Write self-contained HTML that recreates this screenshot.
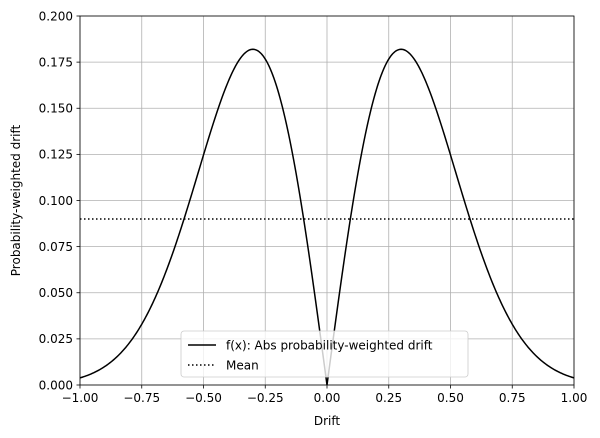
<!DOCTYPE html>
<html><head><meta charset="utf-8"><style>
body{margin:0;background:#fff}
svg{display:block;font-family:"DejaVu Sans","Liberation Sans",sans-serif}
</style></head><body>
<svg id="s" width="600" height="438" xmlns="http://www.w3.org/2000/svg"></svg>
<script>
const s=document.getElementById('s');
const X0=80,X1=574,Y0=385,Y1=16;
const px=v=>X0+(v+1)/2*(X1-X0), py=v=>Y0-v/0.2*(Y0-Y1);
let h='';
for(let i=0;i<=8;i++){const v=-1+i*0.25,x=px(v);
 h+=`<line x1="${x}" y1="${Y1}" x2="${x}" y2="${Y0}" stroke="#b0b0b0" stroke-width="0.8"/>`;
 h+=`<line x1="${x}" y1="${Y0}" x2="${x}" y2="${Y0+3.5}" stroke="#000" stroke-width="0.8"/>`;
 h+=`<text x="${x}" y="${Y0+17}" font-size="12" text-anchor="middle">${v.toFixed(2).replace('-','−')}</text>`;}
for(let i=0;i<=8;i++){const v=i*0.025,y=py(v);
 h+=`<line x1="${X0}" y1="${y}" x2="${X1}" y2="${y}" stroke="#b0b0b0" stroke-width="0.8"/>`;
 h+=`<line x1="${X0-3.5}" y1="${y}" x2="${X0}" y2="${y}" stroke="#000" stroke-width="0.8"/>`;
 h+=`<text x="${X0-7}" y="${y+4.3}" font-size="12" text-anchor="end">${v.toFixed(3)}</text>`;}
h+=`<line x1="${X0}" y1="${py(0.09)}" x2="${X1}" y2="${py(0.09)}" stroke="#000" stroke-width="1.5" stroke-dasharray="1.5,2.5"/>`;
let d='';const N=400;
for(let i=0;i<=N;i++){const x=-1+2*i/N;const f=Math.abs(x)*Math.exp(-x*x/0.18);
 d+=(i?'L':'M')+px(x).toFixed(2)+','+py(f).toFixed(2);}
h+=`<path d="${d}" fill="none" stroke="#000" stroke-width="1.5"/>`;
h+=`<rect x="${X0}" y="${Y1}" width="${X1-X0}" height="${Y0-Y1}" fill="none" stroke="#000" stroke-width="0.8"/>`;
h+=`<rect x="181" y="331" width="287" height="46" rx="3" fill="#fff" fill-opacity="0.8" stroke="#ccc" stroke-width="0.8"/>`;
h+=`<line x1="188" y1="345" x2="216" y2="345" stroke="#000" stroke-width="1.5"/>`;
h+=`<text x="226" y="349.5" font-size="12">f(x): Abs probability-weighted drift</text>`;
h+=`<line x1="188" y1="365" x2="216" y2="365" stroke="#000" stroke-width="1.5" stroke-dasharray="1.5,2.5"/>`;
h+=`<text x="226" y="369.5" font-size="12">Mean</text>`;
h+=`<text x="327" y="425" font-size="12" text-anchor="middle">Drift</text>`;
h+=`<text transform="translate(20,200.5) rotate(-90)" font-size="12" text-anchor="middle">Probability-weighted drift</text>`;
s.innerHTML=h;
</script>
</body></html>
